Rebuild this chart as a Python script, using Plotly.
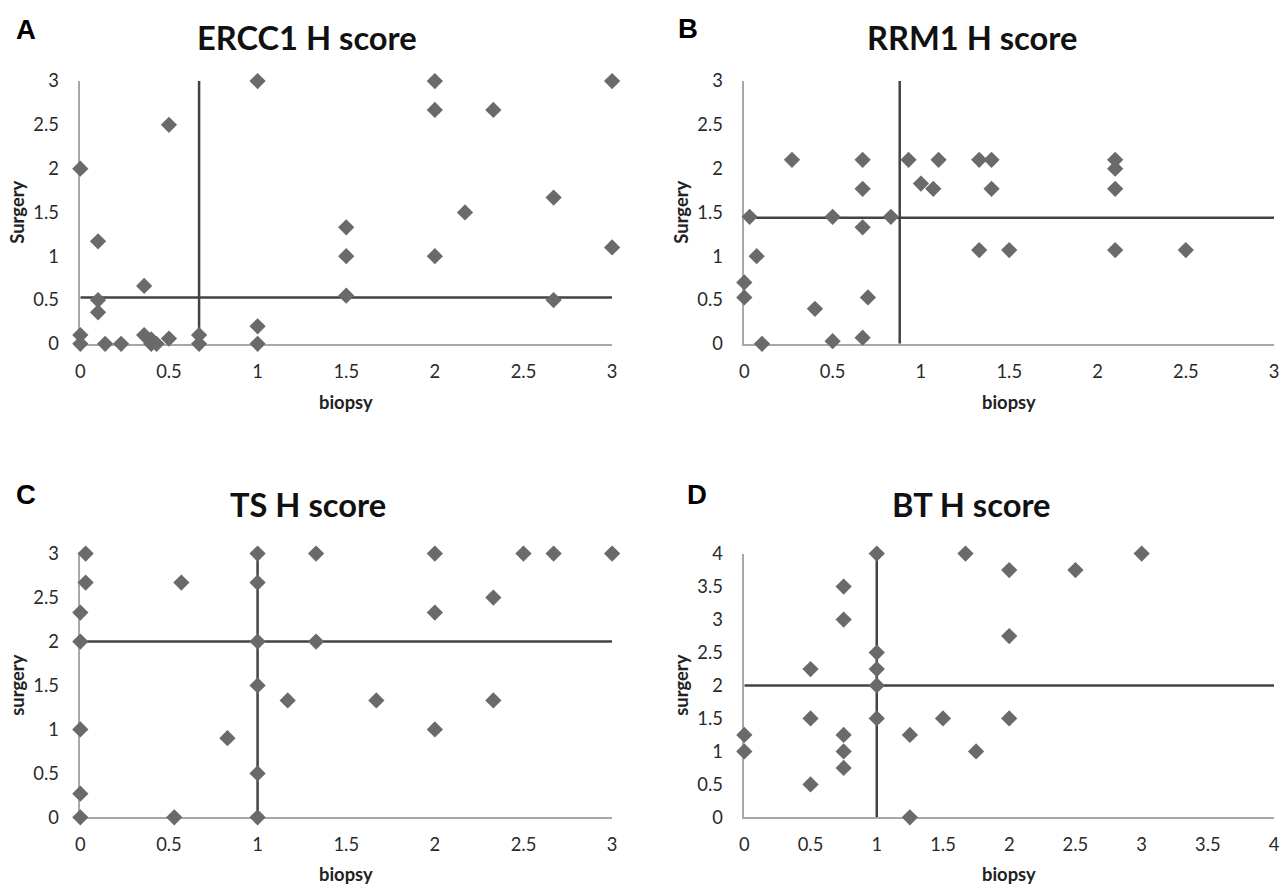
import plotly.graph_objects as go

W, H = 1280, 884

# ---------------- data ----------------
titles = ["ERCC1 H score", "RRM1 H score", "TS H score", "BT H score"]
letters = ["A", "B", "C", "D"]
ytitles = ["Surgery", "Surgery", "surgery", "surgery"]
xtitle = "biopsy"

ercc1_biopsy = [0, 0, 0, 0.1, 0.1, 0.1, 0.14, 0.23, 0.36, 0.36, 0.4, 0.4, 0.43, 0.5, 0.5,
                0.67, 0.67, 1, 1, 1, 1.5, 1.5, 1.5, 2, 2, 2, 2.17, 2.33, 2.67, 2.67, 3, 3]
ercc1_surgery = [2, 0.1, 0, 1.17, 0.5, 0.36, 0, 0, 0.66, 0.1, 0.05, 0, 0, 2.5, 0.06,
                 0.1, 0, 3, 0.2, 0, 1.33, 1, 0.55, 3, 2.67, 1, 1.5, 2.67, 1.67, 0.5, 3, 1.1]
ercc1_cut_x, ercc1_cut_y = 0.67, 0.53

rrm1_biopsy = [0.27, 0.67, 0.67, 0.67, 0.67, 0.7, 0.93, 1.0, 1.07, 1.1, 1.33, 1.4, 1.4, 1.33,
               1.5, 2.1, 2.1, 2.1, 2.1, 2.5, 0.03, 0.5, 0.83, 0.07, 0, 0, 0.4, 0.1, 0.5]
rrm1_surgery = [2.1, 2.1, 1.77, 1.33, 0.07, 0.53, 2.1, 1.83, 1.77, 2.1, 2.1, 2.1, 1.77, 1.07,
                1.07, 2.1, 2.0, 1.77, 1.07, 1.07, 1.45, 1.45, 1.45, 1.0, 0.7, 0.53, 0.4, 0, 0.03]
rrm1_cut_x, rrm1_cut_y = 0.88, 1.44

ts_biopsy = [0.03, 0.03, 0, 0, 0, 0, 0, 0.57, 0.53, 0.83, 1, 1, 1, 1, 1, 1,
             1.17, 1.33, 1.33, 1.67, 2, 2, 2, 2.33, 2.33, 2.5, 2.67, 3]
ts_surgery = [3, 2.67, 2.33, 2, 1, 0.27, 0, 2.67, 0, 0.9, 3, 2.67, 2, 1.5, 0.5, 0,
              1.33, 3, 2, 1.33, 3, 2.33, 1, 2.5, 1.33, 3, 3, 3]
ts_cut_x, ts_cut_y = 1, 2

bt_biopsy = [1, 1.67, 3, 2, 2.5, 0.75, 0.75, 2, 1, 1, 1, 1, 0.5, 0.5, 0.5,
             0.75, 0.75, 0.75, 0, 0, 1.25, 1.25, 1.5, 1.75, 2]
bt_surgery = [4, 4, 4, 3.75, 3.75, 3.5, 3, 2.75, 2.5, 2.25, 2, 1.5, 2.25, 1.5, 0.5,
              1.25, 1, 0.75, 1.25, 1, 1.25, 0, 1.5, 1, 1.5]
bt_cut_x, bt_cut_y = 1, 2

axis_max = [3, 3, 3, 4]
tick_vals = [[0, 0.5, 1, 1.5, 2, 2.5, 3]] * 3 + [[0, 0.5, 1, 1.5, 2, 2.5, 3, 3.5, 4]]
tick_text = [["0", "0.5", "1", "1.5", "2", "2.5", "3"]] * 3 + \
            [["0", "0.5", "1", "1.5", "2", "2.5", "3", "3.5", "4"]]

panels = [
    (ercc1_biopsy, ercc1_surgery, ercc1_cut_x, ercc1_cut_y),
    (rrm1_biopsy, rrm1_surgery, rrm1_cut_x, rrm1_cut_y),
    (ts_biopsy, ts_surgery, ts_cut_x, ts_cut_y),
    (bt_biopsy, bt_surgery, bt_cut_x, bt_cut_y),
]

# ---------------- layout geometry (target screen pixels) ----------------
px_x = [(81, 612), (744, 1273), (81, 612), (744, 1273)]
px_y = [(80, 343), (80, 343), (553, 817), (553, 817)]
title_x = [307, 971, 308, 971]
title_y = [36, 36, 504, 504]
letter_pos = [(15, 28), (676, 27), (15, 494), (685, 494)]

# empirical correction of the rendered geometry (measured on earlier renders)
SX, AX = 0.9907, 5.8
SY, AY = 0.976, 10.9
FS = 1 / 0.98


def fx(p):
    return min(1.0, max(0.0, ((p - AX) / SX) / W))


def fy(p):
    return min(1.0, max(0.0, 1 - ((p - AY) / SY) / H))


FONT = "Lato, 'Open Sans', Arial, sans-serif"
MARK = "#6a6a6a"
LINE = "#434343"
AXIS = "#a8a8a8"
TXT = "#2a2a2a"

fig = go.Figure()
layout = dict(width=W, height=H, margin=dict(l=0, r=0, t=0, b=0), autosize=False,
              paper_bgcolor="white", plot_bgcolor="white", showlegend=False)
annotations = []

for i, (bx, sy, cx, cy) in enumerate(panels):
    n = "" if i == 0 else str(i + 1)
    xa, ya = "x" + n, "y" + n
    m = axis_max[i]
    fig.add_trace(go.Scatter(x=[0, m], y=[cy, cy], mode="lines",
                             line=dict(color=LINE, width=2.5), xaxis=xa, yaxis=ya,
                             cliponaxis=False, hoverinfo="skip"))
    fig.add_trace(go.Scatter(x=[cx, cx], y=[0, m], mode="lines",
                             line=dict(color=LINE, width=2.5), xaxis=xa, yaxis=ya,
                             cliponaxis=False, hoverinfo="skip"))
    fig.add_trace(go.Scatter(x=bx, y=sy, mode="markers",
                             marker=dict(symbol="diamond", size=12.5, color=MARK,
                                         line=dict(width=0)),
                             xaxis=xa, yaxis=ya, cliponaxis=False))
    x0, x1 = px_x[i]
    y0, y1 = px_y[i]
    layout["xaxis" + n] = dict(domain=[fx(x0), fx(x1)], range=[0, m], anchor=ya,
                               showgrid=False, zeroline=False, showline=True,
                               linecolor=AXIS, linewidth=1.5, layer="below traces",
                               tickvals=tick_vals[i], ticktext=tick_text[i],
                               ticks="", ticklabelstandoff=10,
                               tickfont=dict(family=FONT, size=18 * FS, color=TXT))
    layout["yaxis" + n] = dict(domain=[fy(y1), fy(y0)], range=[0, m], anchor=xa,
                               showgrid=False, zeroline=False, showline=True,
                               linecolor=AXIS, linewidth=1.5, layer="below traces",
                               tickvals=tick_vals[i], ticktext=tick_text[i],
                               ticks="", ticklabelstandoff=16,
                               tickfont=dict(family=FONT, size=18 * FS, color=TXT))
    annotations.append(dict(text="<b>" + titles[i] + "</b>", x=fx(title_x[i]),
                            y=fy(title_y[i]), xref="paper", yref="paper",
                            showarrow=False, xanchor="center", yanchor="middle",
                            font=dict(family=FONT, size=32 * FS, color="#111")))
    lx, ly = letter_pos[i]
    annotations.append(dict(text="<b>" + letters[i] + "</b>", x=fx(lx), y=fy(ly),
                            xref="paper", yref="paper", showarrow=False,
                            xanchor="left", yanchor="middle",
                            font=dict(family="Arial, Liberation Sans, sans-serif",
                                      size=27 * FS, color="#000")))
    annotations.append(dict(text="<b>" + xtitle + "</b>", x=fx((x0 + x1) / 2),
                            y=fy(y1 + 58), xref="paper", yref="paper",
                            showarrow=False, xanchor="center", yanchor="middle",
                            font=dict(family=FONT, size=18 * FS, color="#222")))
    annotations.append(dict(text="<b>" + ytitles[i] + "</b>", x=fx(x0 - 63),
                            y=fy((y0 + y1) / 2), xref="paper", yref="paper",
                            showarrow=False, xanchor="center", yanchor="middle",
                            textangle=-90,
                            font=dict(family=FONT, size=18 * FS, color="#222")))

layout["annotations"] = annotations
fig.update_layout(**layout)
fig.write_html("out.html", config={"displayModeBar": False},
               post_script="document.body.style.margin='0';"
                           "document.body.style.overflow='hidden';"
                           "document.documentElement.style.overflow='hidden';")
